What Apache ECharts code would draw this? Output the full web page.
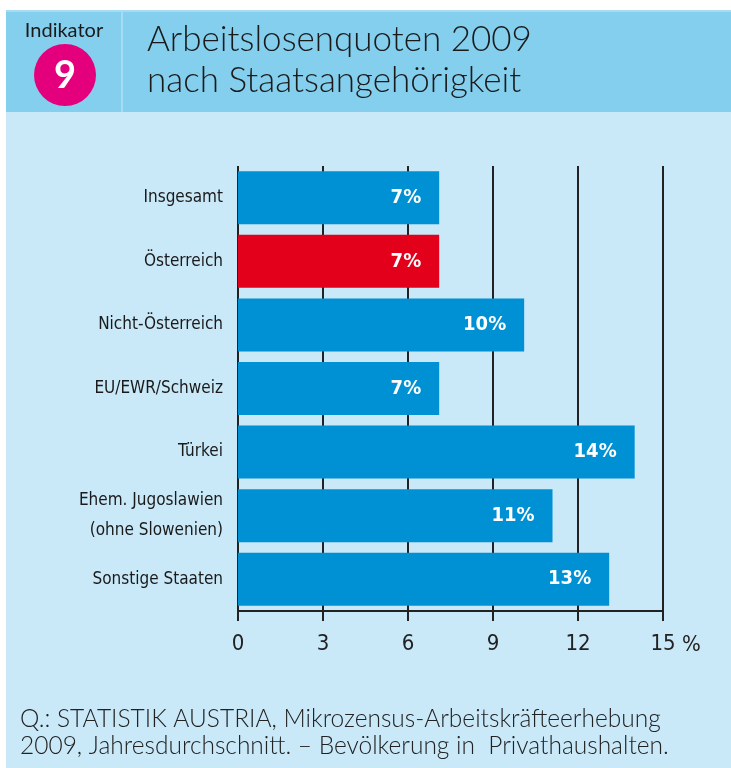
<!DOCTYPE html>
<html>
<head>
<meta charset="utf-8">
<script src="https://cdn.jsdelivr.net/npm/echarts@6/dist/echarts.min.js"></script>
<style>
  html, body { margin: 0; padding: 0; background: #fff; }
  #canvas { width: 731px; height: 768px; }
</style>
</head>
<body>
<div id="canvas"></div>
<script>
var categories = ['Insgesamt', 'Österreich', 'Nicht-Österreich', 'EU/EWR/Schweiz', 'Türkei', 'Ehem. Jugoslawien\n(ohne Slowenien)', 'Sonstige Staaten'];
var values = [7.1, 7.1, 10.1, 7.1, 14.0, 11.1, 13.1];
var barColors = ['#0090d4', '#e2001a', '#0090d4', '#0090d4', '#0090d4', '#0090d4', '#0090d4'];
var xTicks = [0, 3, 6, 9, 12, 15];

var narrow = '"Liberation Sans Narrow", "DejaVu Sans Condensed", sans-serif';
var roundFont = 'Lato, "Noto Sans", sans-serif';

var myChart = echarts.init(document.getElementById('canvas'));

var data = [];
for (var i in values) {
    data.push({value: values[i], itemStyle: {color: barColors[i]}});
}

var option = {
    animation: false,
    graphic: [
        // light background of the panel
        {type: 'rect', z: -10, shape: {x: 6, y: 112, width: 725, height: 656}, style: {fill: '#c9e8f8'}},
        // header band
        {type: 'rect', z: -9, shape: {x: 6, y: 10, width: 725, height: 102}, style: {fill: '#84cfee'}},
        {type: 'rect', z: -8, shape: {x: 6, y: 10, width: 725, height: 2}, style: {fill: '#a6dcf3'}},
        {type: 'rect', z: -8, shape: {x: 121, y: 10, width: 2, height: 102}, style: {fill: '#a6dcf3'}},
        {type: 'text', z: 5, x: 64, y: 31, style: {text: 'Indikator', font: '20px ' + roundFont, fill: '#1a1a1a', align: 'center', verticalAlign: 'middle'}},
        {type: 'circle', z: 5, shape: {cx: 65, cy: 75, r: 31}, style: {fill: '#e4007c'}},
        {type: 'text', z: 6, x: 65, y: 76, style: {text: '9', font: 'bold 38px ' + roundFont, fill: '#fff', align: 'center', verticalAlign: 'middle'}},
        {type: 'text', z: 5, x: 147, y: 40, style: {text: 'Arbeitslosenquoten 2009', font: '300 35px ' + roundFont, fill: '#1a1a1a', verticalAlign: 'middle'}},
        {type: 'text', z: 5, x: 147, y: 81, style: {text: 'nach Staatsangehörigkeit', font: '300 35px ' + roundFont, fill: '#1a1a1a', verticalAlign: 'middle'}},
        // source note
        {type: 'text', z: 5, x: 20, y: 719, style: {text: 'Q.: STATISTIK AUSTRIA, Mikrozensus-Arbeitskräfteerhebung', font: '300 24.5px ' + roundFont, fill: '#222', verticalAlign: 'middle'}},
        {type: 'text', z: 5, x: 20, y: 746, style: {text: '2009, Jahresdurchschnitt. – Bevölkerung in  Privathaushalten.', font: '300 24.5px ' + roundFont, fill: '#222', verticalAlign: 'middle'}}
    ],
    grid: {left: 238, right: 68, top: 166, bottom: 157, containLabel: false},
    xAxis: {
        type: 'value',
        min: 0,
        max: 15,
        interval: 3,
        name: '%',
        nameLocation: 'end',
        nameGap: 19,
        nameTextStyle: {fontFamily: narrow, fontSize: 22, color: '#222', verticalAlign: 'top', padding: [23, 0, 0, 0]},
        axisLine: {show: true, lineStyle: {color: '#222', width: 2}},
        axisTick: {show: true, length: 10, lineStyle: {color: '#222', width: 2}},
        splitLine: {show: true, lineStyle: {color: '#222', width: 2}},
        axisLabel: {
            margin: 22,
            fontFamily: narrow,
            fontSize: 22,
            color: '#222',
            formatter: function (v) { return xTicks.indexOf(v) >= 0 ? String(v) : ''; }
        }
    },
    yAxis: {
        type: 'category',
        inverse: true,
        data: categories,
        axisLine: {show: false},
        axisTick: {show: false},
        splitLine: {show: false},
        axisLabel: {
            margin: 15,
            fontFamily: narrow,
            fontSize: 17,
            lineHeight: 30,
            color: '#1a1a1a'
        }
    },
    series: [{
        type: 'bar',
        data: data,
        barWidth: 53,
        label: {
            show: true,
            position: 'insideRight',
            distance: 18,
            fontFamily: narrow,
            fontSize: 20,
            fontWeight: 'bold',
            color: '#fff',
            formatter: function (p) { return Math.round(p.value) + '%'; }
        }
    }]
};
myChart.setOption(option);
</script>
</body>
</html>
